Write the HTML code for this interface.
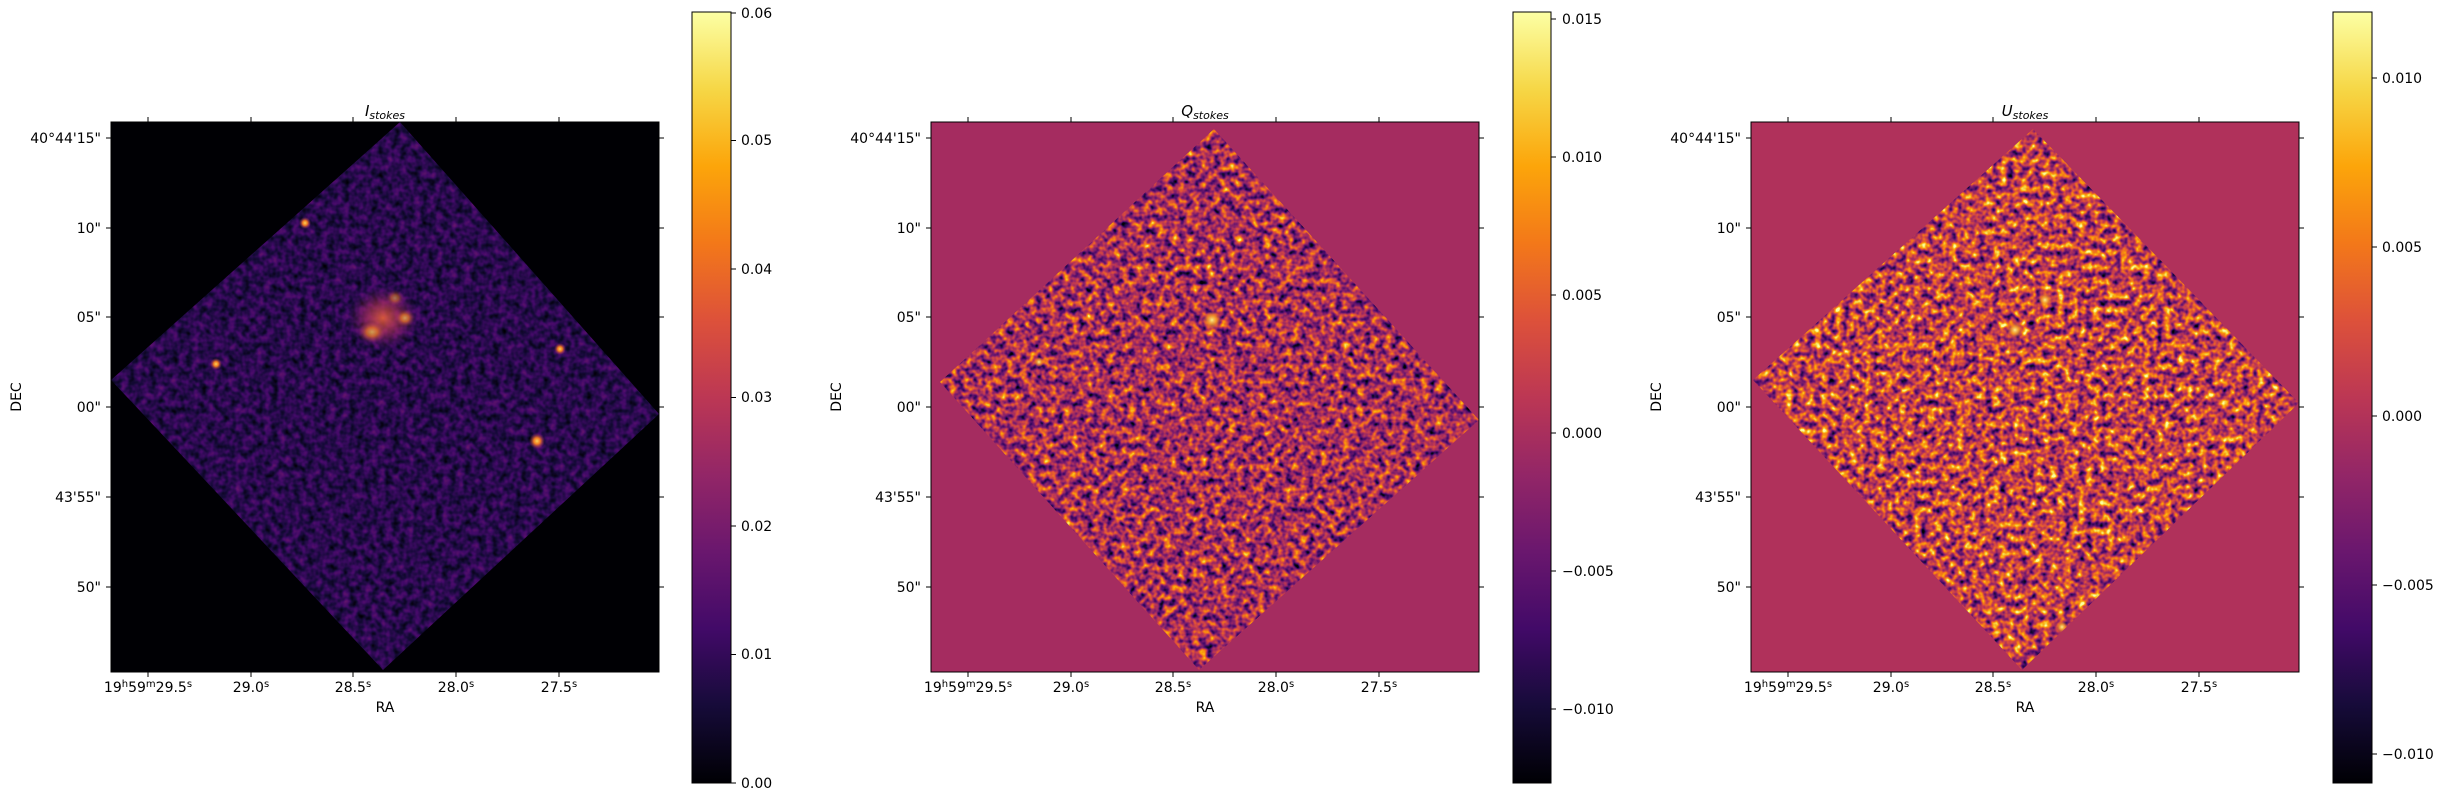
<!DOCTYPE html>
<html><head><meta charset="utf-8"><style>
html,body{margin:0;padding:0;background:#fff;}
svg{display:block;font-family:"DejaVu Sans","Liberation Sans",sans-serif;}
</style></head><body>
<svg width="2442" height="800" viewBox="0 0 2442 800" xmlns="http://www.w3.org/2000/svg">
<defs>
<linearGradient id="inf" x1="0" y1="1" x2="0" y2="0">
<stop offset="0" stop-color="#000004"/><stop offset="0.1" stop-color="#160b39"/><stop offset="0.2" stop-color="#420a68"/><stop offset="0.3" stop-color="#6a176e"/><stop offset="0.4" stop-color="#932667"/><stop offset="0.5" stop-color="#bc3754"/><stop offset="0.6" stop-color="#dd513a"/><stop offset="0.7" stop-color="#f37819"/><stop offset="0.8" stop-color="#fca50a"/><stop offset="0.9" stop-color="#f6d746"/><stop offset="1" stop-color="#fcffa4"/>
</linearGradient>
<filter id="f1" x="0" y="0" width="1" height="1" color-interpolation-filters="sRGB">
<feTurbulence type="fractalNoise" baseFrequency="0.14" numOctaves="2" seed="3"/>
<feColorMatrix type="matrix" values="1 0 0 0 0 1 0 0 0 0 1 0 0 0 0 0 0 0 0 1"/>
<feComponentTransfer><feFuncR type="linear" slope="0.35" intercept="-0.03"/><feFuncG type="linear" slope="0.35" intercept="-0.03"/><feFuncB type="linear" slope="0.35" intercept="-0.03"/></feComponentTransfer>
<feComponentTransfer>
<feFuncR type="table" tableValues="0 0.086 0.259 0.416 0.576 0.737 0.867 0.953 0.988 0.965 0.988"/>
<feFuncG type="table" tableValues="0 0.043 0.039 0.09 0.149 0.216 0.318 0.471 0.647 0.843 1"/>
<feFuncB type="table" tableValues="0.016 0.224 0.408 0.431 0.404 0.329 0.227 0.098 0.039 0.275 0.643"/>
</feComponentTransfer>
</filter>
<filter id="f2" x="0" y="0" width="1" height="1" color-interpolation-filters="sRGB">
<feTurbulence type="fractalNoise" baseFrequency="0.14" numOctaves="2" seed="7"/>
<feColorMatrix type="matrix" values="1 0 0 0 0 1 0 0 0 0 1 0 0 0 0 0 0 0 0 1"/>
<feComponentTransfer><feFuncR type="linear" slope="1.3" intercept="-0.2"/><feFuncG type="linear" slope="1.3" intercept="-0.2"/><feFuncB type="linear" slope="1.3" intercept="-0.2"/></feComponentTransfer>
<feComponentTransfer>
<feFuncR type="table" tableValues="0 0.086 0.259 0.416 0.576 0.737 0.867 0.953 0.988 0.965 0.988"/>
<feFuncG type="table" tableValues="0 0.043 0.039 0.09 0.149 0.216 0.318 0.471 0.647 0.843 1"/>
<feFuncB type="table" tableValues="0.016 0.224 0.408 0.431 0.404 0.329 0.227 0.098 0.039 0.275 0.643"/>
</feComponentTransfer>
</filter>
<filter id="f3" x="0" y="0" width="1" height="1" color-interpolation-filters="sRGB">
<feTurbulence type="fractalNoise" baseFrequency="0.14" numOctaves="2" seed="11"/>
<feColorMatrix type="matrix" values="1 0 0 0 0 1 0 0 0 0 1 0 0 0 0 0 0 0 0 1"/>
<feComponentTransfer><feFuncR type="linear" slope="1.4" intercept="-0.17"/><feFuncG type="linear" slope="1.4" intercept="-0.17"/><feFuncB type="linear" slope="1.4" intercept="-0.17"/></feComponentTransfer>
<feComponentTransfer>
<feFuncR type="table" tableValues="0 0.086 0.259 0.416 0.576 0.737 0.867 0.953 0.988 0.965 0.988"/>
<feFuncG type="table" tableValues="0 0.043 0.039 0.09 0.149 0.216 0.318 0.471 0.647 0.843 1"/>
<feFuncB type="table" tableValues="0.016 0.224 0.408 0.431 0.404 0.329 0.227 0.098 0.039 0.275 0.643"/>
</feComponentTransfer>
</filter>
<radialGradient id="blob"><stop offset="0" stop-color="#e8603a" stop-opacity="0.9"/><stop offset="0.5" stop-color="#b3325a" stop-opacity="0.55"/><stop offset="1" stop-color="#6a176e" stop-opacity="0"/></radialGradient>
<radialGradient id="star"><stop offset="0" stop-color="#fcd25a"/><stop offset="0.4" stop-color="#f07a20"/><stop offset="1" stop-color="#932667" stop-opacity="0"/></radialGradient>
<radialGradient id="hot"><stop offset="0" stop-color="#fcf08a"/><stop offset="0.5" stop-color="#f7a020" stop-opacity="0.8"/><stop offset="1" stop-color="#f37819" stop-opacity="0"/></radialGradient>
<clipPath id="c1"><polygon points="400,122 659,414 383,670 111,380"/></clipPath>
<clipPath id="c2"><polygon points="1214,129 1479,420 1199,670 940,382"/></clipPath>
<clipPath id="c3"><polygon points="2033,129 2299,403 2022,670 1753,380"/></clipPath>
</defs>

<rect x="111" y="122" width="548" height="550" fill="#000004"/>
<g clip-path="url(#c1)">
<rect x="111" y="122" width="548" height="550" filter="url(#f1)"/>
<ellipse cx="383" cy="318" rx="36" ry="32" fill="url(#blob)"/>
<ellipse cx="372" cy="332" rx="14" ry="11" fill="url(#star)" opacity="0.7"/>
<ellipse cx="405" cy="318" rx="10" ry="9" fill="url(#star)" opacity="0.7"/>
<ellipse cx="395" cy="298" rx="9" ry="8" fill="url(#star)" opacity="0.5"/>
<circle cx="305" cy="223" r="6" fill="url(#star)"/>
<circle cx="216" cy="364" r="6" fill="url(#star)"/>
<circle cx="560" cy="349" r="6" fill="url(#star)"/>
<circle cx="537" cy="441" r="8" fill="url(#star)"/>
</g>
<rect x="111" y="122" width="548" height="550" fill="none" stroke="#000" stroke-width="1"/>

<rect x="931" y="122" width="548" height="550" fill="#a52c60"/>
<g clip-path="url(#c2)">
<rect x="931" y="122" width="548" height="550" filter="url(#f2)"/>
<circle cx="1212" cy="320" r="9" fill="url(#hot)"/>
<circle cx="1039" cy="362" r="5" fill="url(#hot)"/>
</g>
<rect x="931" y="122" width="548" height="550" fill="none" stroke="#000" stroke-width="1"/>

<rect x="1751" y="122" width="548" height="550" fill="#b0315b"/>
<g clip-path="url(#c3)">
<rect x="1751" y="122" width="548" height="550" filter="url(#f3)"/>
<circle cx="2015" cy="330" r="8" fill="url(#hot)"/>
<circle cx="2045" cy="300" r="7" fill="url(#hot)"/>
<circle cx="2062" cy="627" r="6" fill="url(#hot)"/>
</g>
<rect x="1751" y="122" width="548" height="550" fill="none" stroke="#000" stroke-width="1"/>

<g font-size="14" fill="#000">
<g stroke="#000" stroke-width="1">
<line x1="148" y1="117" x2="148" y2="122"/><line x1="251" y1="117" x2="251" y2="122"/><line x1="353" y1="117" x2="353" y2="122"/><line x1="456" y1="117" x2="456" y2="122"/><line x1="559" y1="117" x2="559" y2="122"/>
<line x1="148" y1="672" x2="148" y2="677"/><line x1="251" y1="672" x2="251" y2="677"/><line x1="353" y1="672" x2="353" y2="677"/><line x1="456" y1="672" x2="456" y2="677"/><line x1="559" y1="672" x2="559" y2="677"/>
<line x1="106" y1="138" x2="111" y2="138"/><line x1="106" y1="228" x2="111" y2="228"/><line x1="106" y1="317" x2="111" y2="317"/><line x1="106" y1="407" x2="111" y2="407"/><line x1="106" y1="497" x2="111" y2="497"/><line x1="106" y1="587" x2="111" y2="587"/>
<line x1="659" y1="138" x2="664" y2="138"/><line x1="659" y1="228" x2="664" y2="228"/><line x1="659" y1="317" x2="664" y2="317"/><line x1="659" y1="407" x2="664" y2="407"/><line x1="659" y1="497" x2="664" y2="497"/><line x1="659" y1="587" x2="664" y2="587"/>
</g>
<g text-anchor="end">
<text x="101" y="143">40°44'15"</text><text x="101" y="233">10"</text><text x="101" y="322">05"</text><text x="101" y="412">00"</text><text x="101" y="502">43'55"</text><text x="101" y="592">50"</text>
</g>
<g text-anchor="middle">
<text x="148" y="692">19<tspan font-size="10" dy="-5">h</tspan><tspan dy="5">59</tspan><tspan font-size="10" dy="-5">m</tspan><tspan dy="5">29.5</tspan><tspan font-size="10" dy="-5">s</tspan></text>
<text x="251" y="692">29.0<tspan font-size="10" dy="-5">s</tspan></text>
<text x="353" y="692">28.5<tspan font-size="10" dy="-5">s</tspan></text>
<text x="456" y="692">28.0<tspan font-size="10" dy="-5">s</tspan></text>
<text x="559" y="692">27.5<tspan font-size="10" dy="-5">s</tspan></text>
<text x="385" y="712">RA</text>
<text x="385" y="116" font-style="italic" font-size="15">I<tspan font-size="11" dy="3">stokes</tspan></text>
</g>
<text transform="translate(21,397) rotate(-90)" text-anchor="middle">DEC</text>
</g>

<g transform="translate(820,0)" font-size="14" fill="#000">
<g stroke="#000" stroke-width="1">
<line x1="148" y1="117" x2="148" y2="122"/><line x1="251" y1="117" x2="251" y2="122"/><line x1="353" y1="117" x2="353" y2="122"/><line x1="456" y1="117" x2="456" y2="122"/><line x1="559" y1="117" x2="559" y2="122"/>
<line x1="148" y1="672" x2="148" y2="677"/><line x1="251" y1="672" x2="251" y2="677"/><line x1="353" y1="672" x2="353" y2="677"/><line x1="456" y1="672" x2="456" y2="677"/><line x1="559" y1="672" x2="559" y2="677"/>
<line x1="106" y1="138" x2="111" y2="138"/><line x1="106" y1="228" x2="111" y2="228"/><line x1="106" y1="317" x2="111" y2="317"/><line x1="106" y1="407" x2="111" y2="407"/><line x1="106" y1="497" x2="111" y2="497"/><line x1="106" y1="587" x2="111" y2="587"/>
<line x1="659" y1="138" x2="664" y2="138"/><line x1="659" y1="228" x2="664" y2="228"/><line x1="659" y1="317" x2="664" y2="317"/><line x1="659" y1="407" x2="664" y2="407"/><line x1="659" y1="497" x2="664" y2="497"/><line x1="659" y1="587" x2="664" y2="587"/>
</g>
<g text-anchor="end">
<text x="101" y="143">40°44'15"</text><text x="101" y="233">10"</text><text x="101" y="322">05"</text><text x="101" y="412">00"</text><text x="101" y="502">43'55"</text><text x="101" y="592">50"</text>
</g>
<g text-anchor="middle">
<text x="148" y="692">19<tspan font-size="10" dy="-5">h</tspan><tspan dy="5">59</tspan><tspan font-size="10" dy="-5">m</tspan><tspan dy="5">29.5</tspan><tspan font-size="10" dy="-5">s</tspan></text>
<text x="251" y="692">29.0<tspan font-size="10" dy="-5">s</tspan></text>
<text x="353" y="692">28.5<tspan font-size="10" dy="-5">s</tspan></text>
<text x="456" y="692">28.0<tspan font-size="10" dy="-5">s</tspan></text>
<text x="559" y="692">27.5<tspan font-size="10" dy="-5">s</tspan></text>
<text x="385" y="712">RA</text>
<text x="385" y="116" font-style="italic" font-size="15">Q<tspan font-size="11" dy="3">stokes</tspan></text>
</g>
<text transform="translate(21,397) rotate(-90)" text-anchor="middle">DEC</text>
</g>

<g transform="translate(1640,0)" font-size="14" fill="#000">
<g stroke="#000" stroke-width="1">
<line x1="148" y1="117" x2="148" y2="122"/><line x1="251" y1="117" x2="251" y2="122"/><line x1="353" y1="117" x2="353" y2="122"/><line x1="456" y1="117" x2="456" y2="122"/><line x1="559" y1="117" x2="559" y2="122"/>
<line x1="148" y1="672" x2="148" y2="677"/><line x1="251" y1="672" x2="251" y2="677"/><line x1="353" y1="672" x2="353" y2="677"/><line x1="456" y1="672" x2="456" y2="677"/><line x1="559" y1="672" x2="559" y2="677"/>
<line x1="106" y1="138" x2="111" y2="138"/><line x1="106" y1="228" x2="111" y2="228"/><line x1="106" y1="317" x2="111" y2="317"/><line x1="106" y1="407" x2="111" y2="407"/><line x1="106" y1="497" x2="111" y2="497"/><line x1="106" y1="587" x2="111" y2="587"/>
<line x1="659" y1="138" x2="664" y2="138"/><line x1="659" y1="228" x2="664" y2="228"/><line x1="659" y1="317" x2="664" y2="317"/><line x1="659" y1="407" x2="664" y2="407"/><line x1="659" y1="497" x2="664" y2="497"/><line x1="659" y1="587" x2="664" y2="587"/>
</g>
<g text-anchor="end">
<text x="101" y="143">40°44'15"</text><text x="101" y="233">10"</text><text x="101" y="322">05"</text><text x="101" y="412">00"</text><text x="101" y="502">43'55"</text><text x="101" y="592">50"</text>
</g>
<g text-anchor="middle">
<text x="148" y="692">19<tspan font-size="10" dy="-5">h</tspan><tspan dy="5">59</tspan><tspan font-size="10" dy="-5">m</tspan><tspan dy="5">29.5</tspan><tspan font-size="10" dy="-5">s</tspan></text>
<text x="251" y="692">29.0<tspan font-size="10" dy="-5">s</tspan></text>
<text x="353" y="692">28.5<tspan font-size="10" dy="-5">s</tspan></text>
<text x="456" y="692">28.0<tspan font-size="10" dy="-5">s</tspan></text>
<text x="559" y="692">27.5<tspan font-size="10" dy="-5">s</tspan></text>
<text x="385" y="712">RA</text>
<text x="385" y="116" font-style="italic" font-size="15">U<tspan font-size="11" dy="3">stokes</tspan></text>
</g>
<text transform="translate(21,397) rotate(-90)" text-anchor="middle">DEC</text>
</g>

<g font-size="14" fill="#000">
<rect x="692" y="12" width="39" height="771" fill="url(#inf)" stroke="#000" stroke-width="1"/>
<g stroke="#000"><line x1="731" y1="783" x2="736" y2="783"/><line x1="731" y1="654.5" x2="736" y2="654.5"/><line x1="731" y1="526" x2="736" y2="526"/><line x1="731" y1="397.5" x2="736" y2="397.5"/><line x1="731" y1="269" x2="736" y2="269"/><line x1="731" y1="140.5" x2="736" y2="140.5"/><line x1="731" y1="13" x2="736" y2="13"/></g>
<text x="741" y="788">0.00</text><text x="741" y="659">0.01</text><text x="741" y="531">0.02</text><text x="741" y="402">0.03</text><text x="741" y="274">0.04</text><text x="741" y="145">0.05</text><text x="741" y="18">0.06</text>

<rect x="1513" y="12" width="38" height="771" fill="url(#inf)" stroke="#000" stroke-width="1"/>
<g stroke="#000"><line x1="1551" y1="19" x2="1556" y2="19"/><line x1="1551" y1="157" x2="1556" y2="157"/><line x1="1551" y1="295" x2="1556" y2="295"/><line x1="1551" y1="433" x2="1556" y2="433"/><line x1="1551" y1="571" x2="1556" y2="571"/><line x1="1551" y1="709" x2="1556" y2="709"/></g>
<text x="1562" y="24">0.015</text><text x="1562" y="162">0.010</text><text x="1562" y="300">0.005</text><text x="1562" y="438">0.000</text><text x="1562" y="576">−0.005</text><text x="1562" y="714">−0.010</text>

<rect x="2333" y="12" width="39" height="771" fill="url(#inf)" stroke="#000" stroke-width="1"/>
<g stroke="#000"><line x1="2372" y1="78" x2="2377" y2="78"/><line x1="2372" y1="247" x2="2377" y2="247"/><line x1="2372" y1="416" x2="2377" y2="416"/><line x1="2372" y1="585" x2="2377" y2="585"/><line x1="2372" y1="754" x2="2377" y2="754"/></g>
<text x="2382" y="83">0.010</text><text x="2382" y="252">0.005</text><text x="2382" y="421">0.000</text><text x="2382" y="590">−0.005</text><text x="2382" y="759">−0.010</text>
</g>
</svg>
</body></html>
